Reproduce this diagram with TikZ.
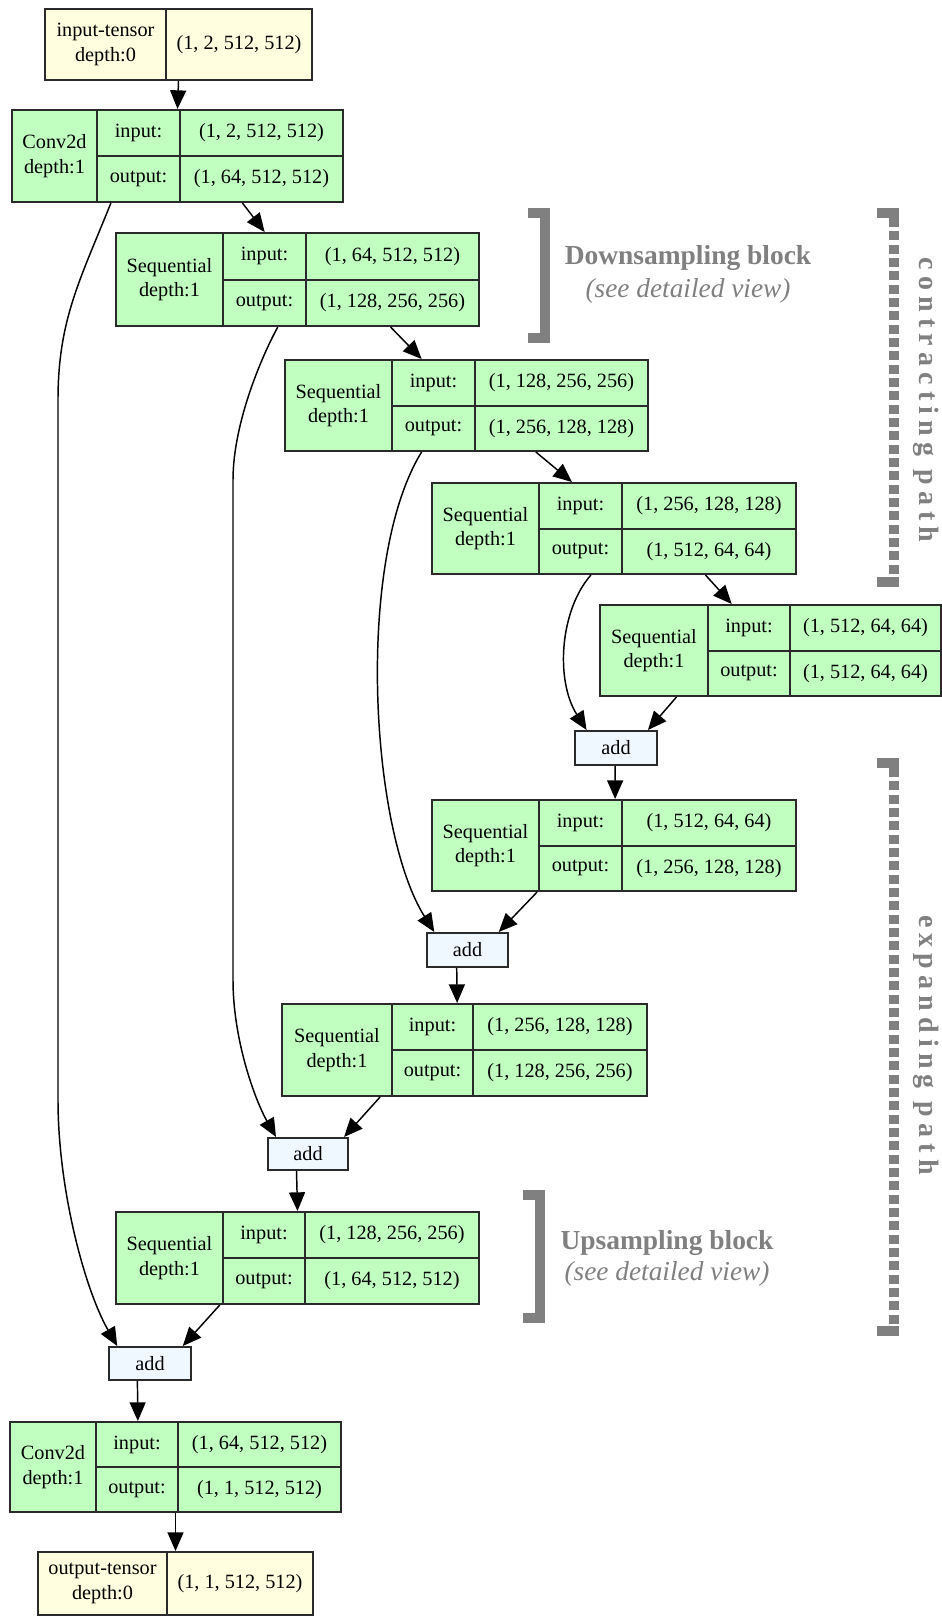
\documentclass[tikz,border=0pt]{standalone}
\usepackage{fontspec}
\setmainfont{Liberation Serif}
\newfontfamily\spacedfont[LetterSpace=22]{Liberation Serif}
\usetikzlibrary{arrows.meta,calc,fit}
\definecolor{modgreen}{HTML}{C1FFC1}
\definecolor{tenyellow}{HTML}{FFFFE0}
\definecolor{addblue}{HTML}{F0F8FF}
\definecolor{annot}{HTML}{808080}
\definecolor{frame}{HTML}{2A2A2A}
\newcommand\setgeom[6]{\def\gxa{#1}\def\gya{#2}\def\gxb{#3}\def\gyb{#4}\def\gda{#5}\def\gdb{#6}}
\newcommand\modbox[5]{%
  \pgfmathsetmacro\gym{(\gya+\gyb)/2}
  \node[boxframe, fill=#2, fit={(\gxa,\gya) (\gxb,\gyb)}] (#1) {};
  \draw[boxline] (\gda,\gya) -- (\gda,\gyb) (\gdb,\gya) -- (\gdb,\gyb) (\gda,\gym) -- (\gxb,\gym);
  \node[txt] at ({(\gxa+\gda)/2},\gym) {#3};
  \node[txt] at ({(\gda+\gdb)/2},{(\gya+\gym)/2}) {input:};
  \node[txt] at ({(\gda+\gdb)/2},{(\gym+\gyb)/2}) {output:};
  \node[txt] at ({(\gdb+\gxb)/2},{(\gya+\gym)/2}) {#4};
  \node[txt] at ({(\gdb+\gxb)/2},{(\gym+\gyb)/2}) {#5};
}
\newcommand\tensorbox[3]{%
  \pgfmathsetmacro\gym{(\gya+\gyb)/2}
  \node[boxframe, fill=tenyellow, fit={(\gxa,\gya) (\gxb,\gyb)}] (#1) {};
  \draw[boxline] (\gda,\gya) -- (\gda,\gyb);
  \node[txt] at ({(\gxa+\gda)/2},\gym) {#2};
  \node[txt] at ({(\gda+\gxb)/2},\gym) {#3};
}
\newcommand\addbox[5]{%
  \node[boxframe, fill=addblue, fit={(#2,#3) (#4,#5)}] (#1) {};
  \node[txt] at ({(#2+#4)/2},{(#3+#5)/2}) {add};
}
\tikzset{
  boxframe/.style={draw=frame, line width=1.5pt, inner sep=0pt},
  boxline/.style={draw=frame, line width=1.5pt},
  txt/.style={font=\fontsize{15.2}{18.5}\selectfont, align=center, inner sep=0pt},
  edge/.style={draw=black, line width=1.1pt, -{Triangle[length=14pt,width=12pt]}},
  brk/.style={draw=annot, line width=7.5pt, miter limit=10},
  brkdash/.style={draw=annot, line width=7.5pt, dash pattern=on 6.75pt off 3.25pt},
  annotbold/.style={text=annot, font=\fontsize{20.6}{24}\selectfont\bfseries, inner sep=0pt},
  annotital/.style={text=annot, font=\fontsize{20.5}{24}\selectfont\itshape, inner sep=0pt},
  annotspaced/.style={text=annot, font=\fontsize{21}{24}\selectfont\spacedfont\bfseries, inner sep=0pt, rotate=-90},
}
\begin{document}
\begin{tikzpicture}[x=0.75pt,y=-0.75pt]
\useasboundingbox (0,0) rectangle (942,1618);

\setgeom{45}{9}{312}{80}{166}{0}
\tensorbox{inp}{input-tensor\\depth:0}{(1, 2, 512, 512)}
\setgeom{12}{110}{343}{202}{97}{180}
\modbox{conva}{modgreen}{Conv2d\\depth:1}{(1, 2, 512, 512)}{(1, 64, 512, 512)}
\setgeom{116}{233}{479}{326}{223}{306}
\modbox{seqa}{modgreen}{Sequential\\depth:1}{(1, 64, 512, 512)}{(1, 128, 256, 256)}
\setgeom{285}{360}{648}{451}{392}{475}
\modbox{seqb}{modgreen}{Sequential\\depth:1}{(1, 128, 256, 256)}{(1, 256, 128, 128)}
\setgeom{432}{483}{796}{574}{539}{622}
\modbox{seqc}{modgreen}{Sequential\\depth:1}{(1, 256, 128, 128)}{(1, 512, 64, 64)}
\setgeom{600}{605}{941}{696}{708}{790}
\modbox{seqd}{modgreen}{Sequential\\depth:1}{(1, 512, 64, 64)}{(1, 512, 64, 64)}
\addbox{adda}{575}{731}{657}{765}
\setgeom{432}{800}{796}{891}{539}{622}
\modbox{seqe}{modgreen}{Sequential\\depth:1}{(1, 512, 64, 64)}{(1, 256, 128, 128)}
\addbox{addb}{427}{933}{508}{967}
\setgeom{282}{1004}{647}{1096}{392}{473}
\modbox{seqf}{modgreen}{Sequential\\depth:1}{(1, 256, 128, 128)}{(1, 128, 256, 256)}
\addbox{addc}{268}{1138}{348}{1170}
\setgeom{116}{1212}{479}{1304}{223}{305}
\modbox{seqg}{modgreen}{Sequential\\depth:1}{(1, 128, 256, 256)}{(1, 64, 512, 512)}
\addbox{addd}{109}{1347}{191}{1380}
\setgeom{10}{1422}{341}{1512}{96}{178}
\modbox{convb}{modgreen}{Conv2d\\depth:1}{(1, 64, 512, 512)}{(1, 1, 512, 512)}
\setgeom{38}{1552}{313}{1615}{167}{0}
\tensorbox{outp}{output-tensor\\depth:0}{(1, 1, 512, 512)}

% edges
\draw[edge] ($(inp.south west)!0.5!(inp.south east)$) -- ($(conva.north west)!0.5!(conva.north east)$);
\draw[edge] ($(conva.south west)!0.695!(conva.south east)$) -- ($(seqa.north west)!0.41!(seqa.north east)$);
\draw[edge] ($(conva.south west)!0.30!(conva.south east)$) .. controls (80,280) and (58,320) .. (58,400) -- (58,1100) .. controls (58,1190) and (85,1290) .. ($(addd.north west)!0.11!(addd.north east)$);
\draw[edge] ($(seqa.south west)!0.755!(seqa.south east)$) -- ($(seqb.north west)!0.377!(seqb.north east)$);
\draw[edge] ($(seqa.south west)!0.446!(seqa.south east)$) .. controls (265,350) and (233,420) .. (233,480) -- (233,980) .. controls (233,1040) and (255,1100) .. ($(addc.north west)!0.11!(addc.north east)$);
\draw[edge] ($(seqb.south west)!0.69!(seqb.south east)$) -- ($(seqc.north west)!0.385!(seqc.north east)$);
\draw[edge] ($(seqb.south west)!0.377!(seqb.south east)$) .. controls (355,560) and (370,830) .. ($(addb.north west)!0.1!(addb.north east)$);
\draw[edge] ($(seqc.south west)!0.75!(seqc.south east)$) -- ($(seqd.north west)!0.387!(seqd.north east)$);
\draw[edge] ($(seqc.south west)!0.437!(seqc.south east)$) .. controls (560,610) and (555,680) .. ($(adda.north west)!0.15!(adda.north east)$);
\draw[edge] ($(seqd.south west)!0.226!(seqd.south east)$) -- ($(adda.north west)!0.88!(adda.north east)$);
\draw[edge] ($(adda.south west)!0.49!(adda.south east)$) -- ($(seqe.north west)!0.503!(seqe.north east)$);
\draw[edge] ($(seqe.south west)!0.29!(seqe.south east)$) -- ($(addb.north west)!0.876!(addb.north east)$);
\draw[edge] ($(addb.south west)!0.37!(addb.south east)$) -- ($(seqf.north west)!0.48!(seqf.north east)$);
\draw[edge] ($(seqf.south west)!0.27!(seqf.south east)$) -- ($(addc.north west)!0.94!(addc.north east)$);
\draw[edge] ($(addc.south west)!0.36!(addc.south east)$) -- ($(seqg.north west)!0.5!(seqg.north east)$);
\draw[edge] ($(seqg.south west)!0.287!(seqg.south east)$) -- ($(addd.north west)!0.89!(addd.north east)$);
\draw[edge] ($(addd.south west)!0.35!(addd.south east)$) -- ($(convb.north west)!0.387!(convb.north east)$);
\draw[edge] ($(convb.south west)!0.5!(convb.south east)$) -- ($(outp.north west)!0.5!(outp.north east)$);

% block brackets
\draw[brk] (528,213) -- (545,213) -- (545,338) -- (528,338);
\node[annotbold] at (688,258) {Downsampling block};
\node[annotital] at (688,291) {(see detailed view)};
\draw[brk] (523,1195) -- (540,1195) -- (540,1318) -- (523,1318);
\node[annotbold] at (667,1243) {Upsampling block};
\node[annotital] at (667,1274) {(see detailed view)};

% path brackets
\fill[annot] (877,208) rectangle (899,218);
\fill[annot] (877,577) rectangle (899,587);
\draw[brkdash] (894,218) -- (894,577);
\node[annotspaced] at (926,400) {contracting path};
\fill[annot] (877,758) rectangle (899,768);
\fill[annot] (877,1326) rectangle (899,1336);
\draw[brkdash] (894,768) -- (894,1326);
\node[annotspaced] at (926,1045) {expanding path};
\end{tikzpicture}
\end{document}
